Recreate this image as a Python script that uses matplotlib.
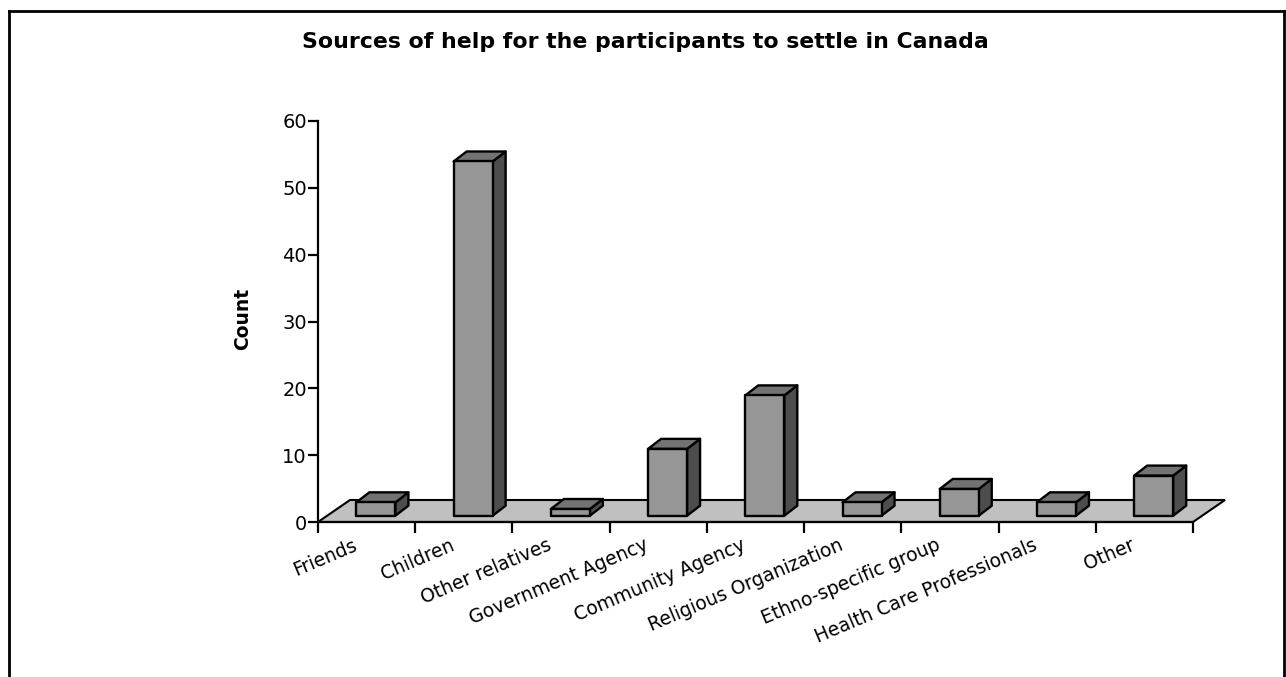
import matplotlib
matplotlib.use("Agg")
import matplotlib.pyplot as plt
from matplotlib.patches import Polygon
from matplotlib.lines import Line2D

categories = ["Friends", "Children", "Other relatives", "Government Agency",
              "Community Agency", "Religious Organization", "Ethno-specific group",
              "Health Care Professionals", "Other"]
counts = [2, 53, 1, 10, 18, 2, 4, 2, 6]
yticks = [0, 10, 20, 30, 40, 50, 60]
title = "Sources of help for the participants to settle in Canada"
ylabel = "Count"

plt.rcParams["font.family"] = ["DejaVu Sans"]

W, H = 1286, 677
fig = plt.figure(figsize=(W / 100, H / 100), dpi=100)
fig.patch.set_facecolor("white")

# axes placement in pixels
x0, x1, y0, y1 = 318, 1193, 522, 121
ax = fig.add_axes([x0 / W, 1 - y0 / H, (x1 - x0) / W, (y0 - y1) / H])
n = len(categories)
ax.set_xlim(0, n)
ax.set_ylim(0, 60)
ax.patch.set_visible(False)

pxx = (x1 - x0) / n          # pixels per category
pxy = (y0 - y1) / 60.0       # pixels per unit

# floor depth
fdx, fdy = 32 / pxx, 22 / pxy
floor = Polygon([(0, 0), (n, 0), (n + fdx, fdy), (fdx, fdy)], closed=True,
                facecolor="#c0c0c0", edgecolor="black", lw=1.5, clip_on=False, zorder=1)
ax.add_patch(floor)

# bars
boff_x, boff_y = 9.3 / pxx, 6.3 / pxy
bw = 39 / pxx
bdx, bdy = 13 / pxx, 10 / pxy
front_c, side_c, top_c = "#969696", "#4d4d4d", "#737373"
for i, v in enumerate(counts):
    cx = i + 0.5 + boff_x
    l, r = cx - bw / 2, cx + bw / 2
    b, t = boff_y, boff_y + v
    side = Polygon([(r, b), (r + bdx, b + bdy), (r + bdx, t + bdy), (r, t)], closed=True,
                   facecolor=side_c, edgecolor="black", lw=1.7, joinstyle="round",
                   clip_on=False, zorder=3)
    top = Polygon([(l, t), (r, t), (r + bdx, t + bdy), (l + bdx, t + bdy)], closed=True,
                  facecolor=top_c, edgecolor="black", lw=1.7, joinstyle="round",
                  clip_on=False, zorder=3)
    front = Polygon([(l, b), (r, b), (r, t), (l, t)], closed=True,
                    facecolor=front_c, edgecolor="black", lw=1.7, joinstyle="round",
                    clip_on=False, zorder=4)
    for p in (side, top, front):
        ax.add_patch(p)

for s in ("top", "right"):
    ax.spines[s].set_visible(False)
for s in ("left", "bottom"):
    ax.spines[s].set_linewidth(1.6)
    ax.spines[s].set_zorder(5)

ax.set_yticks(yticks)
ax.set_yticklabels([str(v) for v in yticks], fontsize=14)
ax.tick_params(axis="y", length=7, width=1.6, pad=1)

ax.set_xticks(range(n + 1))
ax.set_xticklabels([""] * (n + 1))
ax.tick_params(axis="x", which="major", length=8, width=1.6, direction="out")
ax.set_xticks([i + 0.39 for i in range(n)], minor=True)
ax.set_xticklabels(categories, minor=True, fontsize=13.5, rotation=23,
                   ha="right", va="center", rotation_mode="anchor")
ax.tick_params(axis="x", which="minor", length=0, pad=16)

fig.text(645 / W, 1 - 42 / H, title, ha="center", va="center",
         fontsize=15.8, fontweight="bold")
fig.text(243 / W, 1 - 319 / H, ylabel, ha="center", va="center",
         fontsize=13.5, fontweight="bold", rotation=90)

# outer frame (bottom edge lies outside the picture)
lw_f = 2.0
fl, fr, ft = 8.5 / W, 1284 / W, 1 - 11 / H
fig.add_artist(Line2D([fl, fl], [-0.01, ft], transform=fig.transFigure, color="black", lw=lw_f))
fig.add_artist(Line2D([fl, fr], [ft, ft], transform=fig.transFigure, color="black", lw=lw_f))
fig.add_artist(Line2D([fr, fr], [ft, -0.01], transform=fig.transFigure, color="black", lw=lw_f))

fig.savefig("out.png", dpi=100)
